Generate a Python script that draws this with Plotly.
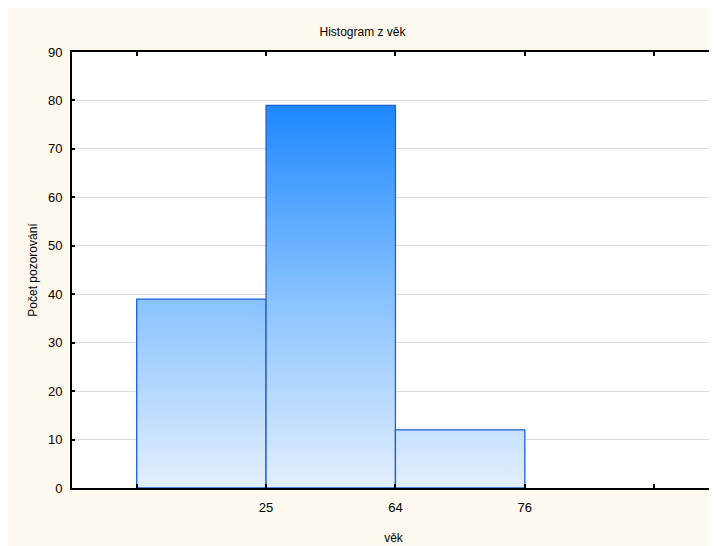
import plotly.graph_objects as go

# Data
bin_labels = ["", "25", "64", "76", ""]   # labels at bin boundaries
counts = [39, 79, 12]                      # observations per bin
y_ticks = [0, 10, 20, 30, 40, 50, 60, 70, 80, 90]

title_text = "Histogram z věk"
x_title = "věk"
y_title = "Počet pozorování"

FONT = "Liberation Sans, Arial, sans-serif"
CREAM = "#FEF9EF"

fig = go.Figure()

gmax = max(counts)
for i, c in enumerate(counts):
    left = i + 0.5
    right = i + 1.5
    fig.add_trace(go.Scatter(
        x=[left, left, right, right, left],
        y=[0, c, c, 0, 0],
        mode="lines",
        fill="toself",
        fillgradient=dict(
            type="vertical",
            colorscale=[[0, "#E3EFFD"], [0.5, "#88C2FF"], [1, "#1E88FF"]],
            start=0, stop=gmax,
        ),
        line=dict(color="#1F5FD8", width=1.3),
        hoverinfo="skip",
        showlegend=False,
    ))

tickvals_x = [i for i in range(len(bin_labels))]

fig.update_layout(
    width=709, height=538,
    paper_bgcolor=CREAM,
    plot_bgcolor="white",
    margin=dict(l=64, r=0, t=44, b=58, pad=0),
    title=dict(text=title_text, x=0.5, xanchor="center", y=1 - 24/538, yanchor="middle",
               font=dict(family=FONT, size=12, color="black")),
    font=dict(family=FONT, color="black"),
)

fig.update_xaxes(
    range=[0, 4.97],
    tickmode="array",
    tickvals=[v + 0.5 for v in tickvals_x],
    ticktext=bin_labels,
    ticks="inside", ticklen=4, tickwidth=1.5, tickcolor="black",
    showline=True, linecolor="black", linewidth=2, mirror="allticks",
    showgrid=False, zeroline=False,
    tickfont=dict(size=13, family=FONT),
    ticklabelstandoff=6,
    title=dict(text=x_title, font=dict(size=12, family=FONT), standoff=20),
)
fig.update_yaxes(
    range=[0, 90],
    tickmode="array", tickvals=y_ticks,
    ticks="inside", ticklen=3, tickwidth=1.5, tickcolor="black",
    showline=True, linecolor="black", linewidth=2, mirror="allticks",
    showgrid=True, gridcolor="#DEDEDE", gridwidth=1.2, zeroline=False,
    tickfont=dict(size=13, family=FONT),
    ticklabelstandoff=5,
    title=dict(text=y_title, font=dict(size=12, family=FONT), standoff=8),
)

fig.write_html("out.html")
